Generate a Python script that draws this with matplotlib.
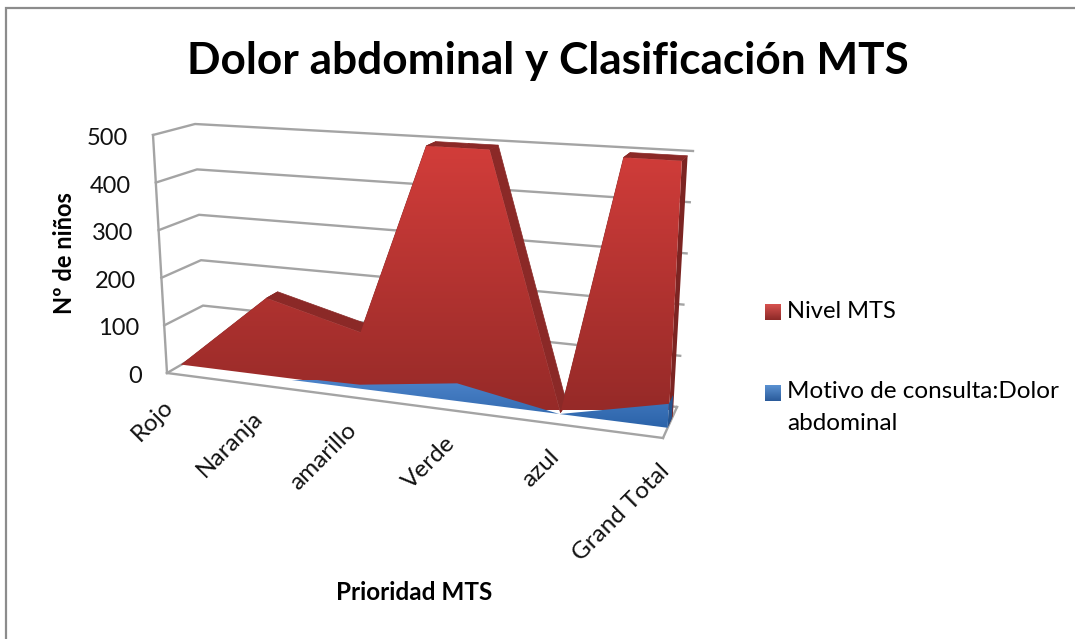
import numpy as np
import matplotlib
matplotlib.use("Agg")
import matplotlib.pyplot as plt
from matplotlib.patches import Polygon
from matplotlib.colors import LinearSegmentedColormap

plt.rcParams['font.family'] = ['Lato', 'DejaVu Sans']

categories = ["Rojo", "Naranja", "amarillo", "Verde", "azul", "Grand Total"]
nivel_mts = [0, 162, 112, 690, 0, 1010]
dolor_abdominal = [0, 5, 8, 35, 0, 45]
y_ticks = [0, 100, 200, 300, 400, 500]
y_max = 500

W, H = 1075, 639
fig = plt.figure(figsize=(W / 100, H / 100), dpi=100)
ax = fig.add_axes([0, 0, 1, 1])

# pixel corners of the 3D box (category end, depth, value)
FL0, FR0 = np.array([167., 373.]), np.array([663., 438.])
BL0, BR0 = np.array([205., 351.]), np.array([677., 407.])
FL1, FR1 = np.array([153., 135.]), np.array([675., 167.])
BL1, BR1 = np.array([195., 124.]), np.array([693., 151.])
PERSP = 0.878


def persp(i):
    u = i / (len(categories) - 1)
    return u * PERSP / ((1 - u) + u * PERSP)


def project(i, depth, value):
    t = persp(i)
    h = value / y_max
    bottom = (1 - depth) * ((1 - t) * FL0 + t * FR0) + depth * ((1 - t) * BL0 + t * BR0)
    top = (1 - depth) * ((1 - t) * FL1 + t * FR1) + depth * ((1 - t) * BL1 + t * BR1)
    return (1 - h) * bottom + h * top


def clipped(values):
    pts = []
    for i, v in enumerate(values):
        if i:
            p = values[i - 1]
            if (p - y_max) * (v - y_max) < 0:
                pts.append((i - 1 + (y_max - p) / (v - p), y_max))
        pts.append((i, min(v, y_max)))
    return pts


def gradient_poly(points, top_col, bot_col, y_top, y_bot, z):
    cmap = LinearSegmentedColormap.from_list("g", [top_col, bot_col])
    im = ax.imshow(np.linspace(0, 1, 256).reshape(-1, 1), cmap=cmap, aspect='auto',
                   extent=(0, W, y_bot, y_top), zorder=z, interpolation='bilinear')
    im.set_clip_path(Polygon(points, closed=True, transform=ax.transData))


GRID = "#a4a4a4"
LW = 1.7

# walls and floor
for v in y_ticks:
    a, b, c = project(0, 0, v), project(0, 1, v), project(len(categories) - 1, 1, v)
    ax.plot([a[0], b[0], c[0]], [a[1], b[1], c[1]], color=GRID, lw=LW, zorder=1)
n = len(categories) - 1
for seg in [(project(0, 0, 0), project(0, 0, y_max)),
            (project(0, 0, 0), project(n, 0, 0)),
            (project(n, 0, 0), project(n, 1, 0))]:
    ax.plot([seg[0][0], seg[1][0]], [seg[0][1], seg[1][1]], color=GRID, lw=LW, zorder=1)

# red series
RED_D0, RED_D1 = 0.38, 0.70
red = clipped(nivel_mts)
last_v = red[-1][1]
side = [project(n, RED_D0, 0), project(n, RED_D1, 0), project(n, RED_D1, last_v), project(n, RED_D0, last_v)]
ax.add_patch(Polygon(side, closed=True, fc="#7c2422", ec="none", zorder=2))
for (i0, v0), (i1, v1) in zip(red[:-1], red[1:]):
    quad = [project(i0, RED_D0, v0), project(i1, RED_D0, v1), project(i1, RED_D1, v1), project(i0, RED_D1, v0)]
    ax.add_patch(Polygon(quad, closed=True, fc="#8b2927", ec="#8b2927", lw=0.5, zorder=3))
front = [project(i, RED_D0, v) for i, v in red] + [project(n, RED_D0, 0), project(0, RED_D0, 0)]
gradient_poly(front, "#d23d3a", "#962a28", 145, 410, 4)

# blue series
BLUE_D0, BLUE_D1 = 0.33, 0.63
blue = clipped(dolor_abdominal)
last_v = blue[-1][1]
side = [project(n, BLUE_D0, 0), project(n, BLUE_D1, 0), project(n, BLUE_D1, last_v), project(n, BLUE_D0, last_v)]
ax.add_patch(Polygon(side, closed=True, fc="#24548f", ec="none", zorder=5))
front = [project(i, BLUE_D0, v) for i, v in blue] + [project(n, BLUE_D0, 0), project(0, BLUE_D0, 0)]
gradient_poly(front, "#4b82c8", "#2a62a8", 380, 430, 6)

# y tick labels
for v in y_ticks:
    p = project(0, 0, v)
    ax.text(p[0] - 25, p[1] + 3.5, str(v), ha='right', va='center', fontsize=17, color='#111111', zorder=8)

# category labels
for i, c in enumerate(categories):
    p = project(i, 0, 0)
    ax.text(p[0] + 3, p[1] + 30, c, rotation=45, rotation_mode='anchor', ha='right', va='center',
            fontsize=17.5, color='#111111', zorder=8)

ax.text(548, 61, "Dolor abdominal y Clasificación MTS", ha='center', va='center',
        fontsize=31.8, fontweight='bold', color='black')
ax.text(65, 253, "Nº de niños", rotation=90, ha='center', va='center', fontsize=17, fontweight='bold')
ax.text(414, 592, "Prioridad MTS", ha='center', va='center', fontsize=17.5, fontweight='bold')

# legend
gradient_poly([(765, 304), (781, 304), (781, 320), (765, 320)], "#d8524f", "#8b2927", 304, 320, 7)
gradient_poly([(765, 385), (781, 385), (781, 401), (765, 401)], "#5b92d2", "#2a5a9a", 385, 401, 7)
ax.text(787, 311, "Nivel MTS", ha='left', va='center', fontsize=17)
ax.text(787, 392, "Motivo de consulta:Dolor", ha='left', va='center', fontsize=17.5)
ax.text(787, 424, "abdominal", ha='left', va='center', fontsize=17.5)

# chart frame: only its left and top edges fall inside the picture
ax.plot([5.5, 5.5, W], [H, 7.5, 7.5], color='#8c8c8c', lw=1.6, zorder=9, solid_joinstyle='miter')

ax.set_xlim(0, W)
ax.set_ylim(H, 0)
ax.axis('off')
fig.savefig("out.png", dpi=100)
